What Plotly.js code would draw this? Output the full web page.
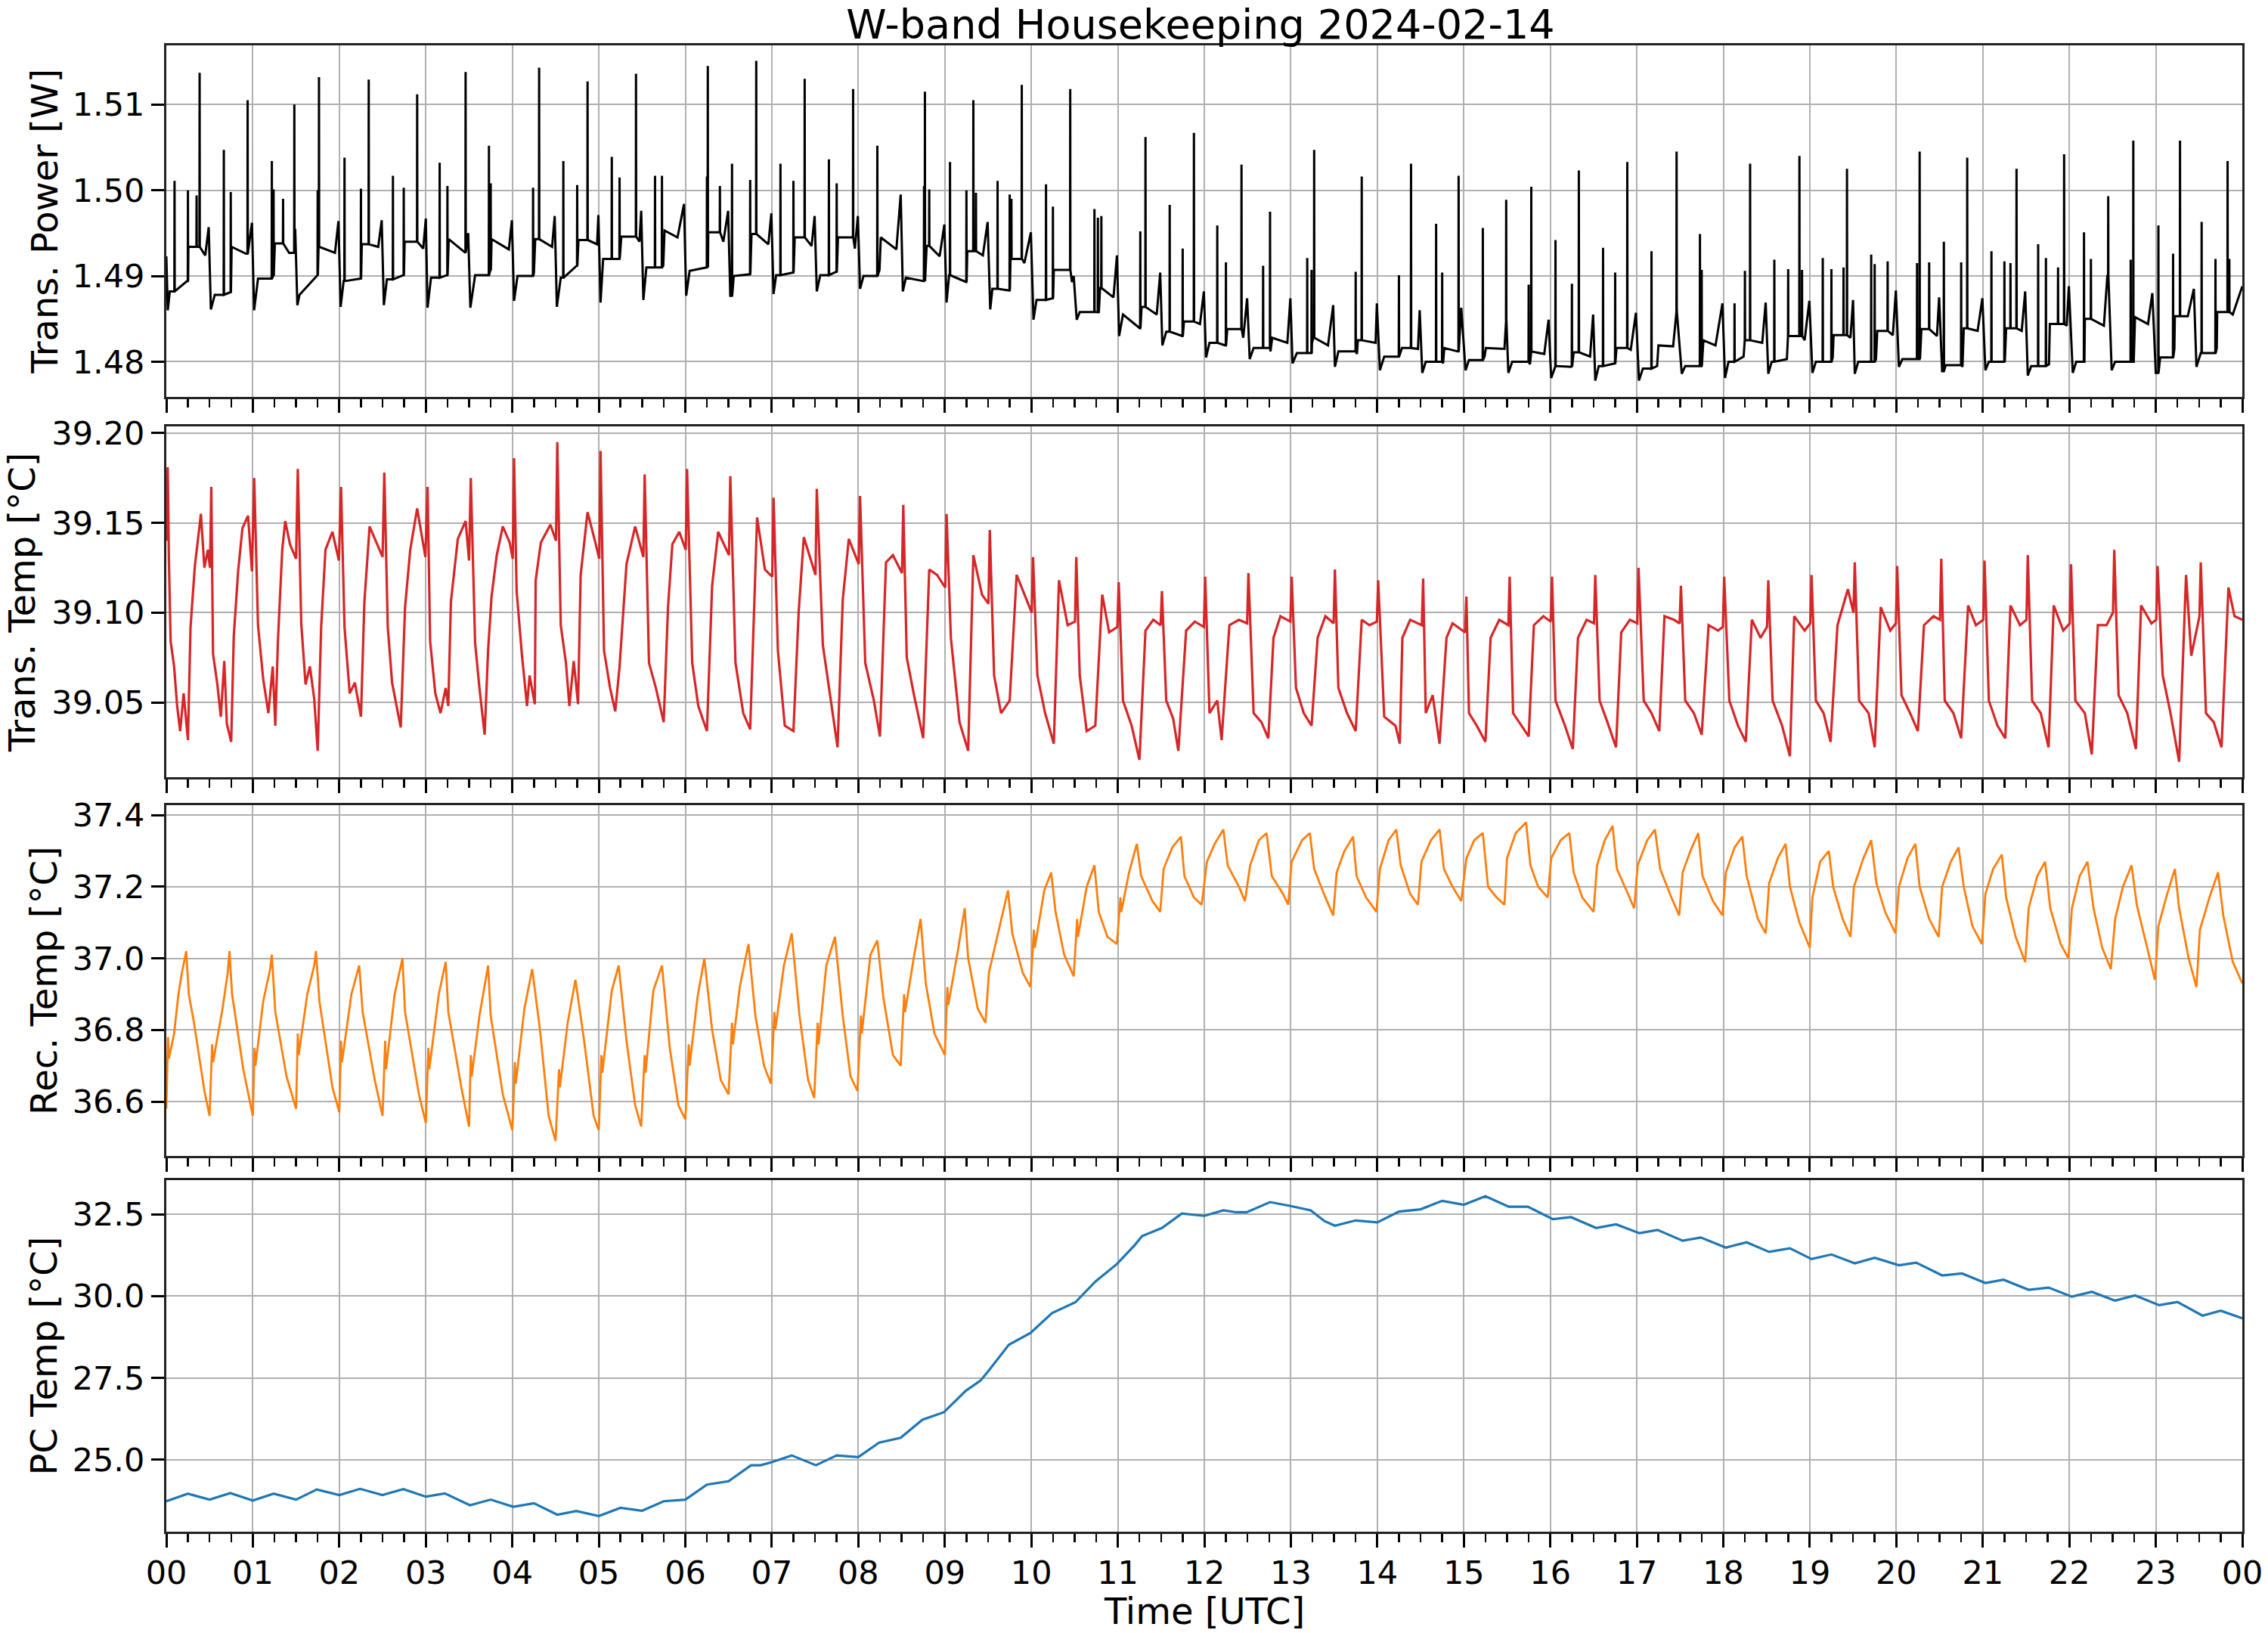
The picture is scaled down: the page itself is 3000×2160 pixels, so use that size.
<!DOCTYPE html>
<html>
<head>
<meta charset="utf-8">
<script src="https://cdn.plot.ly/plotly-3.0.1.min.js"></script>
<style>body { margin: 0; background: #fff; }</style>
</head>
<body>
<div id="chart" style="width:3000px;height:2160px"></div>
<script>
// x axis: hours of the day
var hourTicks = [];
var hourLabels = [];
for (var h = 0; h <= 24; h++) {
  hourTicks.push(h);
  hourLabels.push(String(h % 24).padStart(2, '0'));
}

// Trans. Power [W] - baseline (steps, ramps, dips)
var powerBase = [
  [0.00,1.4923],[0.017,1.4860],[0.04,1.4882],[0.24,1.4894],[0.255,1.4934],[0.45,1.4924],[0.49,1.4957],[0.515,1.4861],[0.56,1.4878],[0.74,1.4881],
  [0.755,1.4934],[0.92,1.4926],[0.99,1.4962],[1.015,1.4860],[1.06,1.4897],[1.24,1.4901],[1.255,1.4938],[1.42,1.4927],[1.49,1.4955],[1.515,1.4866],
  [1.54,1.4878],[1.745,1.4901],[1.76,1.4934],[1.95,1.4927],[1.99,1.4964],[2.015,1.4864],[2.05,1.4894],[2.245,1.4897],[2.26,1.4937],[2.45,1.4934],
  [2.49,1.4965],[2.515,1.4866],[2.55,1.4896],[2.74,1.4901],[2.755,1.4940],[2.97,1.4932],[3.0,1.4967],[3.02,1.4863],[3.06,1.4898],[3.245,1.4901],
  [3.265,1.4943],[3.45,1.4927],[3.49,1.4950],[3.515,1.4863],[3.57,1.4901],[3.745,1.4907],[3.76,1.4943],[3.96,1.4931],[3.995,1.4965],[4.02,1.4871],
  [4.06,1.4900],[4.25,1.4904],[4.265,1.4943],[4.46,1.4934],[4.49,1.4970],[4.515,1.4864],[4.56,1.4898],[4.745,1.4912],[4.765,1.4942],[4.98,1.4937],
  [4.995,1.4971],[5.02,1.4869],[5.05,1.4920],[5.245,1.4924],[5.26,1.4946],[5.47,1.4940],[5.49,1.4976],[5.515,1.4872],[5.55,1.4910],[5.745,1.4912],
  [5.76,1.4953],[5.91,1.4945],[5.985,1.4984],[6.01,1.4877],[6.05,1.4906],[6.245,1.4910],[6.265,1.4951],[6.44,1.4940],[6.495,1.4976],[6.52,1.4877],
  [6.56,1.4900],[6.745,1.4902],[6.765,1.4949],[6.96,1.4937],[6.995,1.4973],[7.02,1.4879],[7.05,1.4901],[7.245,1.4904],[7.265,1.4945],[7.46,1.4935],
  [7.495,1.4970],[7.52,1.4882],[7.56,1.4901],[7.745,1.4905],[7.765,1.4945],[7.96,1.4932],[7.995,1.4970],[8.02,1.4885],[8.06,1.4900],[8.245,1.4907],
  [8.26,1.4945],[8.44,1.4931],[8.49,1.4995],[8.515,1.4882],[8.55,1.4898],[8.755,1.4894],[8.79,1.4935],[8.94,1.4923],[8.995,1.4960],[9.02,1.4869],
  [9.05,1.4901],[9.245,1.4893],[9.26,1.4929],[9.44,1.4924],[9.495,1.4963],[9.525,1.4861],[9.55,1.4885],[9.745,1.4883],[9.76,1.4920],[9.92,1.4915],
  [9.995,1.4951],[10.025,1.4849],[10.06,1.4872],[10.245,1.4874],[10.26,1.4907],[10.47,1.4893],[10.49,1.4900],[10.525,1.4849],[10.56,1.4858],[10.78,1.4857],
  [10.795,1.4886],[10.95,1.4875],[10.99,1.4924],[11.015,1.4830],[11.06,1.4855],[11.255,1.4839],[11.275,1.4864],[11.45,1.4855],[11.49,1.4904],[11.515,1.4819],
  [11.56,1.4835],[11.745,1.4830],[11.765,1.4847],[11.95,1.4844],[11.995,1.4882],[12.02,1.4805],[12.06,1.4822],[12.245,1.4819],[12.265,1.4838],[12.45,1.4828],
  [12.495,1.4874],[12.525,1.4803],[12.57,1.4816],[12.765,1.4812],[12.785,1.4828],[12.96,1.4822],[12.995,1.4874],[13.02,1.4798],[13.07,1.4810],[13.245,1.4822],
  [13.26,1.4828],[13.43,1.4819],[13.49,1.4866],[13.51,1.4794],[13.55,1.4812],[13.765,1.4809],[13.775,1.4825],[13.98,1.4822],[13.995,1.4868],[14.03,1.4790],
  [14.08,1.4806],[14.285,1.4816],[14.47,1.4815],[14.49,1.4860],[14.52,1.4787],[14.56,1.4800],[14.76,1.4798],[14.775,1.4816],[14.93,1.4812],[14.97,1.4863],
  [15.02,1.4790],[15.06,1.4802],[15.24,1.4806],[15.255,1.4816],[15.47,1.4815],[15.49,1.4850],[15.515,1.4787],[15.56,1.4800],[15.765,1.4797],[15.78,1.4812],
  [15.93,1.4809],[15.98,1.4849],[16.01,1.4781],[16.06,1.4795],[16.25,1.4794],[16.27,1.4811],[16.46,1.4806],[16.495,1.4855],[16.52,1.4778],[16.56,1.4795],
  [16.745,1.4798],[16.765,1.4816],[16.93,1.4814],[16.99,1.4857],[17.025,1.4778],[17.07,1.4792],[17.235,1.4795],[17.25,1.4819],[17.42,1.4818],[17.46,1.4860],
  [17.52,1.4786],[17.56,1.4795],[17.755,1.4800],[17.77,1.4825],[17.91,1.4819],[17.99,1.4868],[18.02,1.4781],[18.06,1.4800],[18.235,1.4806],[18.245,1.4825],
  [18.45,1.4822],[18.49,1.4869],[18.52,1.4786],[18.56,1.4800],[18.735,1.4803],[18.745,1.4830],[18.94,1.4825],[18.995,1.4871],[19.03,1.4787],[19.07,1.4800],
  [19.265,1.4805],[19.275,1.4831],[19.47,1.4828],[19.50,1.4872],[19.52,1.4786],[19.56,1.4800],[19.765,1.4803],[19.78,1.4836],[19.96,1.4831],[19.995,1.4883],
  [20.03,1.4794],[20.07,1.4803],[20.275,1.4805],[20.29,1.4838],[20.47,1.4830],[20.495,1.4875],[20.53,1.4789],[20.57,1.4796],[20.765,1.4794],[20.78,1.4839],
  [20.94,1.4836],[20.995,1.4874],[21.03,1.4790],[21.07,1.4800],[21.255,1.4801],[21.27,1.4839],[21.45,1.4836],[21.49,1.4882],[21.52,1.4784],[21.56,1.4795],
  [21.765,1.4797],[21.775,1.4844],[21.97,1.4842],[21.995,1.4888],[22.04,1.4787],[22.08,1.4800],[22.175,1.4800],[22.18,1.4850],[22.40,1.4842],[22.44,1.4900],
  [22.49,1.4790],[22.53,1.4800],[22.745,1.4800],[22.76,1.4852],[22.91,1.4844],[22.96,1.4880],[23.0,1.4787],[23.05,1.4805],[23.215,1.4815],[23.22,1.4853],
  [23.37,1.4853],[23.44,1.4885],[23.47,1.4794],[23.52,1.4810],[23.705,1.4816],[23.71,1.4858],[23.89,1.4855],[24.0,1.4888]
];

// Trans. Power [W] - short upward spikes (hour, peak)
var powerSpikes = [
  [0.095,1.5011],[0.25,1.5000],[0.35,1.4994],[0.385,1.5137],[0.665,1.5047],[0.745,1.4998],[0.94,1.5105],[1.22,1.5034],[1.24,1.5001],[1.35,1.4990],
  [1.48,1.5100],[1.75,1.5000],[1.765,1.5132],[2.06,1.5038],[2.25,1.5002],[2.34,1.5129],[2.62,1.5017],[2.745,1.5003],[2.9,1.5112],[3.16,1.5032],
  [3.25,1.5005],[3.46,1.5138],[3.73,1.5052],[3.75,1.5008],[4.24,1.5003],[4.31,1.5143],[4.59,1.5034],[4.75,1.5006],[4.87,1.5127],[5.15,1.5039],
  [5.24,1.5015],[5.43,1.5136],[5.65,1.5017],[5.73,1.5017],[6.25,1.5016],[6.26,1.5145],[6.40,1.5005],[6.54,1.5031],[6.75,1.5012],[6.82,1.5151],
  [7.10,1.5031],[7.25,1.5011],[7.38,1.5130],[7.66,1.5036],[7.75,1.5008],[7.94,1.5118],[8.22,1.5052],[8.76,1.5005],[8.77,1.5115],[8.82,1.5001],
  [9.06,1.5033],[9.25,1.5000],[9.33,1.5105],[9.36,1.4997],[9.61,1.5011],[9.75,1.4995],[9.77,1.4990],[9.89,1.5123],[10.17,1.5007],[10.25,1.4981],
  [10.45,1.5118],[10.73,1.4978],[10.77,1.4968],[10.81,1.4970],[11.26,1.4952],[11.32,1.5062],[11.60,1.4983],[11.75,1.4932],[11.88,1.5067],[12.15,1.4959],
  [12.25,1.4916],[12.43,1.5030],[12.68,1.4912],[12.76,1.4975],[13.19,1.4921],[13.24,1.4907],[13.27,1.5047],[13.75,1.4905],[13.82,1.5016],[14.25,1.4901],
  [14.39,1.5031],[14.68,1.4961],[14.75,1.4904],[14.94,1.5017],[15.22,1.4956],[15.49,1.4989],[15.75,1.4890],[15.78,1.5004],[16.06,1.4942],[16.25,1.4891],
  [16.33,1.5023],[16.61,1.4933],[16.75,1.4904],[16.89,1.5033],[17.17,1.4929],[17.46,1.5045],[17.73,1.4949],[17.75,1.4907],[18.13,1.4868],[18.25,1.4906],
  [18.31,1.5031],[18.59,1.4919],[18.75,1.4908],[18.88,1.5040],[18.91,1.4907],[19.15,1.4921],[19.25,1.4908],[19.39,1.4910],[19.43,1.5025],[19.71,1.4925],
  [19.75,1.4914],[19.9,1.4917],[20.24,1.4915],[20.27,1.5045],[20.38,1.4916],[20.55,1.4940],[20.75,1.4916],[20.82,1.5038],[21.1,1.4929],[21.25,1.4917],
  [21.32,1.4915],[21.39,1.5025],[21.64,1.4937],[21.73,1.4921],[21.87,1.4910],[21.94,1.5042],[22.17,1.4951],[22.25,1.4920],[22.45,1.4993],[22.71,1.4919],
  [22.74,1.5058],[23.03,1.4959],[23.2,1.4926],[23.28,1.5058],[23.53,1.4963],[23.69,1.4920],[23.83,1.5034],[23.85,1.4920]
];

// Trans. Temp [°C]
var transTemp = [
  [0.000,39.140],[0.016,39.181],[0.030,39.129],[0.050,39.084],[0.090,39.070],[0.125,39.048],[0.160,39.034],[0.200,39.055],[0.250,39.029],[0.280,39.092],
  [0.330,39.126],[0.380,39.147],[0.400,39.155],[0.440,39.125],[0.480,39.135],[0.505,39.125],[0.520,39.170],[0.540,39.077],[0.590,39.060],[0.630,39.042],
  [0.670,39.073],[0.700,39.038],[0.750,39.028],[0.780,39.087],[0.830,39.123],[0.880,39.147],[0.945,39.154],[0.990,39.123],[1.016,39.175],[1.060,39.093],
  [1.120,39.063],[1.180,39.044],[1.230,39.070],[1.260,39.037],[1.290,39.084],[1.340,39.135],[1.375,39.151],[1.430,39.138],[1.500,39.130],[1.520,39.180],
  [1.560,39.094],[1.610,39.060],[1.660,39.070],[1.710,39.052],[1.750,39.023],[1.790,39.092],[1.840,39.135],[1.920,39.145],[1.995,39.129],[2.020,39.170],
  [2.060,39.092],[2.120,39.055],[2.180,39.061],[2.250,39.042],[2.290,39.106],[2.350,39.148],[2.430,39.139],[2.500,39.131],[2.520,39.178],[2.560,39.092],
  [2.610,39.061],[2.660,39.048],[2.710,39.036],[2.760,39.103],[2.820,39.135],[2.900,39.158],[2.995,39.131],[3.020,39.170],[3.050,39.084],[3.110,39.055],
  [3.170,39.044],[3.230,39.058],[3.260,39.048],[3.290,39.106],[3.370,39.141],[3.460,39.151],[3.500,39.129],[3.520,39.175],[3.570,39.083],[3.620,39.058],
  [3.680,39.032],[3.720,39.079],[3.760,39.109],[3.820,39.132],[3.890,39.148],[3.970,39.139],[4.005,39.130],[4.020,39.186],[4.050,39.112],[4.110,39.077],
  [4.170,39.048],[4.200,39.065],[4.260,39.049],[4.270,39.118],[4.330,39.139],[4.440,39.149],[4.505,39.140],[4.520,39.195],[4.560,39.093],[4.620,39.072],
  [4.660,39.048],[4.710,39.073],[4.760,39.049],[4.790,39.121],[4.870,39.156],[4.960,39.139],[5.005,39.130],[5.020,39.190],[5.060,39.079],[5.130,39.058],
  [5.190,39.045],[5.240,39.070],[5.280,39.100],[5.320,39.127],[5.420,39.148],[5.515,39.131],[5.530,39.177],[5.580,39.072],[5.660,39.058],[5.750,39.039],
  [5.800,39.103],[5.850,39.138],[5.930,39.145],[6.005,39.135],[6.020,39.180],[6.080,39.072],[6.150,39.048],[6.250,39.034],[6.310,39.115],[6.380,39.145],
  [6.505,39.132],[6.520,39.176],[6.580,39.072],[6.670,39.044],[6.750,39.035],[6.780,39.079],[6.830,39.153],[6.920,39.124],[7.005,39.120],[7.020,39.164],
  [7.070,39.079],[7.150,39.037],[7.250,39.034],[7.310,39.100],[7.370,39.142],[7.505,39.121],[7.520,39.169],[7.590,39.082],[7.660,39.058],[7.760,39.025],
  [7.820,39.107],[7.890,39.141],[8.005,39.127],[8.020,39.165],[8.080,39.072],[8.180,39.051],[8.250,39.031],[8.320,39.128],[8.400,39.132],[8.505,39.122],
  [8.520,39.160],[8.560,39.075],[8.640,39.055],[8.750,39.030],[8.820,39.124],[8.910,39.121],[9.005,39.114],[9.020,39.155],[9.070,39.086],[9.170,39.039],
  [9.270,39.023],[9.330,39.132],[9.430,39.110],[9.505,39.105],[9.520,39.146],[9.570,39.065],[9.650,39.044],[9.750,39.051],[9.830,39.121],[9.890,39.114],
  [10.005,39.100],[10.020,39.131],[10.070,39.065],[10.160,39.044],[10.260,39.027],[10.320,39.118],[10.420,39.093],[10.505,39.095],[10.520,39.131],[10.560,39.065],
  [10.640,39.034],[10.740,39.037],[10.820,39.110],[10.900,39.089],[10.995,39.092],[11.010,39.117],[11.060,39.051],[11.160,39.037],[11.250,39.018],[11.320,39.090],
  [11.410,39.096],[11.495,39.093],[11.510,39.112],[11.560,39.051],[11.640,39.041],[11.700,39.023],[11.790,39.090],[11.890,39.095],[11.995,39.092],[12.010,39.120],
  [12.060,39.044],[12.150,39.051],[12.200,39.029],[12.290,39.093],[12.400,39.096],[12.495,39.094],[12.510,39.122],[12.570,39.044],[12.660,39.039],[12.740,39.030],
  [12.800,39.086],[12.880,39.098],[12.995,39.095],[13.010,39.120],[13.060,39.058],[13.150,39.044],[13.240,39.037],[13.310,39.086],[13.400,39.098],[13.495,39.094],
  [13.510,39.124],[13.550,39.058],[13.650,39.044],[13.750,39.034],[13.820,39.096],[13.910,39.093],[13.995,39.095],[14.010,39.118],[14.080,39.042],[14.210,39.037],
  [14.260,39.027],[14.290,39.086],[14.380,39.096],[14.515,39.093],[14.530,39.119],[14.560,39.044],[14.640,39.054],[14.720,39.027],[14.800,39.086],[14.870,39.094],
  [15.015,39.089],[15.030,39.109],[15.060,39.044],[15.150,39.037],[15.250,39.028],[15.310,39.086],[15.410,39.096],[15.515,39.093],[15.530,39.120],[15.570,39.044],
  [15.670,39.037],[15.750,39.031],[15.810,39.093],[15.920,39.098],[16.005,39.095],[16.020,39.120],[16.060,39.051],[16.170,39.037],[16.260,39.024],[16.320,39.086],
  [16.420,39.096],[16.505,39.094],[16.520,39.121],[16.570,39.051],[16.660,39.039],[16.760,39.025],[16.820,39.089],[16.920,39.096],[17.005,39.094],[17.020,39.125],
  [17.080,39.051],[17.170,39.044],[17.260,39.034],[17.320,39.098],[17.430,39.096],[17.495,39.094],[17.510,39.115],[17.560,39.051],[17.660,39.044],[17.750,39.032],
  [17.830,39.093],[17.940,39.090],[17.995,39.092],[18.010,39.120],[18.070,39.051],[18.170,39.037],[18.260,39.028],[18.330,39.096],[18.430,39.086],[18.505,39.092],
  [18.520,39.118],[18.570,39.051],[18.680,39.037],[18.770,39.020],[18.820,39.098],[18.940,39.090],[19.005,39.094],[19.020,39.121],[19.070,39.051],[19.160,39.044],
  [19.240,39.028],[19.320,39.093],[19.440,39.113],[19.505,39.100],[19.520,39.128],[19.570,39.051],[19.680,39.044],[19.750,39.025],[19.820,39.103],[19.930,39.090],
  [19.995,39.094],[20.010,39.126],[20.060,39.054],[20.160,39.044],[20.250,39.034],[20.320,39.093],[20.430,39.098],[20.505,39.096],[20.520,39.130],[20.560,39.051],
  [20.660,39.044],[20.750,39.030],[20.830,39.104],[20.920,39.093],[21.005,39.096],[21.020,39.129],[21.070,39.051],[21.170,39.037],[21.260,39.030],[21.320,39.104],
  [21.430,39.093],[21.505,39.096],[21.520,39.132],[21.570,39.051],[21.670,39.044],[21.760,39.025],[21.820,39.104],[21.930,39.090],[22.005,39.094],[22.020,39.127],
  [22.070,39.051],[22.180,39.044],[22.260,39.021],[22.330,39.093],[22.430,39.093],[22.505,39.100],[22.520,39.135],[22.570,39.054],[22.670,39.044],[22.770,39.024],
  [22.830,39.104],[22.950,39.094],[23.005,39.096],[23.020,39.126],[23.080,39.065],[23.170,39.044],[23.270,39.017],[23.350,39.121],[23.410,39.076],[23.505,39.098],
  [23.520,39.128],[23.580,39.044],[23.670,39.039],[23.760,39.025],[23.840,39.114],[23.910,39.098],[24.000,39.096]
];

// Rec. Temp [°C]
var recTemp = [
  [0.00,36.58],[0.02,36.78],[0.03,36.72],[0.09,36.79],[0.14,36.90],[0.18,36.96],[0.23,37.02],[0.26,36.90],[0.32,36.82],[0.38,36.72],
  [0.44,36.63],[0.50,36.56],[0.53,36.76],[0.54,36.71],[0.65,36.86],[0.71,36.96],[0.73,37.02],[0.76,36.90],[0.89,36.69],[1.00,36.56],
  [1.02,36.75],[1.03,36.70],[1.12,36.88],[1.20,36.97],[1.22,37.01],[1.26,36.85],[1.39,36.67],[1.50,36.58],[1.52,36.79],[1.53,36.73],
  [1.63,36.90],[1.71,36.98],[1.73,37.02],[1.77,36.88],[1.92,36.64],[2.00,36.57],[2.02,36.77],[2.03,36.71],[2.14,36.90],[2.23,36.98],
  [2.27,36.85],[2.41,36.66],[2.50,36.56],[2.53,36.77],[2.54,36.69],[2.64,36.90],[2.73,37.00],[2.76,36.85],[2.92,36.62],[3.00,36.54],
  [3.03,36.75],[3.04,36.69],[3.15,36.90],[3.23,36.99],[3.26,36.85],[3.41,36.64],[3.50,36.53],[3.52,36.73],[3.53,36.67],[3.62,36.84],
  [3.72,36.98],[3.75,36.84],[3.89,36.62],[4.00,36.52],[4.03,36.71],[4.04,36.65],[4.14,36.86],[4.23,36.97],[4.32,36.80],[4.42,36.56],
  [4.50,36.49],[4.54,36.69],[4.55,36.64],[4.64,36.82],[4.73,36.94],[4.83,36.77],[4.94,36.56],[5.00,36.52],[5.03,36.73],[5.04,36.68],
  [5.15,36.91],[5.23,36.98],[5.32,36.77],[5.42,36.59],[5.49,36.53],[5.53,36.73],[5.54,36.68],[5.63,36.91],[5.73,36.98],[5.82,36.75],
  [5.92,36.59],[6.00,36.55],[6.04,36.76],[6.05,36.70],[6.14,36.89],[6.22,37.00],[6.31,36.80],[6.41,36.66],[6.50,36.62],[6.54,36.82],
  [6.55,36.76],[6.63,36.92],[6.73,37.04],[6.81,36.84],[6.91,36.70],[6.99,36.65],[7.03,36.85],[7.04,36.80],[7.14,36.98],[7.23,37.07],
  [7.32,36.84],[7.42,36.66],[7.49,36.61],[7.53,36.82],[7.54,36.76],[7.63,36.98],[7.73,37.06],[7.82,36.84],[7.91,36.67],[7.99,36.63],
  [8.03,36.84],[8.04,36.79],[8.14,37.01],[8.22,37.05],[8.29,36.89],[8.40,36.73],[8.49,36.70],[8.53,36.90],[8.54,36.85],[8.64,37.00],
  [8.72,37.11],[8.78,36.93],[8.88,36.79],[9.00,36.73],[9.03,36.92],[9.04,36.87],[9.15,37.02],[9.23,37.14],[9.27,37.00],[9.38,36.86],
  [9.47,36.82],[9.51,36.96],[9.64,37.10],[9.73,37.19],[9.78,37.07],[9.90,36.96],[9.99,36.92],[10.03,37.08],[10.04,37.03],[10.15,37.19],
  [10.23,37.24],[10.28,37.13],[10.38,37.01],[10.49,36.95],[10.53,37.11],[10.54,37.06],[10.64,37.20],[10.73,37.26],[10.78,37.13],[10.88,37.06],
  [10.99,37.04],[11.03,37.17],[11.04,37.13],[11.13,37.24],[11.22,37.32],[11.27,37.23],[11.40,37.16],[11.49,37.13],[11.53,37.25],[11.63,37.31],
  [11.73,37.34],[11.77,37.23],[11.88,37.17],[11.97,37.15],[12.03,37.27],[12.12,37.32],[12.22,37.36],[12.27,37.26],[12.40,37.20],[12.47,37.16],
  [12.53,37.26],[12.63,37.33],[12.72,37.35],[12.78,37.23],[12.91,37.18],[12.97,37.15],[13.01,37.27],[13.13,37.33],[13.22,37.35],[13.27,37.25],
  [13.40,37.17],[13.49,37.12],[13.53,37.24],[13.62,37.30],[13.72,37.34],[13.76,37.23],[13.87,37.17],[13.99,37.13],[14.03,37.25],[14.13,37.33],
  [14.22,37.36],[14.27,37.26],[14.38,37.18],[14.47,37.15],[14.51,37.27],[14.62,37.33],[14.72,37.36],[14.77,37.25],[14.87,37.20],[14.97,37.16],
  [15.03,37.28],[15.12,37.33],[15.22,37.35],[15.28,37.20],[15.38,37.17],[15.47,37.15],[15.50,37.28],[15.60,37.35],[15.72,37.38],[15.77,37.26],
  [15.86,37.20],[15.97,37.17],[16.01,37.28],[16.12,37.33],[16.22,37.35],[16.27,37.24],[16.37,37.17],[16.50,37.13],[16.54,37.26],[16.63,37.33],
  [16.72,37.37],[16.77,37.25],[16.88,37.19],[16.97,37.14],[17.01,37.26],[17.12,37.33],[17.21,37.36],[17.27,37.25],[17.40,37.17],[17.49,37.12],
  [17.53,37.24],[17.62,37.30],[17.71,37.35],[17.76,37.23],[17.88,37.16],[17.99,37.12],[18.03,37.24],[18.13,37.31],[18.22,37.34],[18.27,37.23],
  [18.40,37.11],[18.49,37.07],[18.53,37.21],[18.63,37.28],[18.72,37.32],[18.77,37.20],[18.88,37.10],[19.00,37.03],[19.03,37.17],[19.12,37.27],
  [19.22,37.30],[19.27,37.20],[19.38,37.11],[19.47,37.06],[19.51,37.20],[19.62,37.28],[19.71,37.33],[19.77,37.21],[19.87,37.13],[19.99,37.07],
  [20.03,37.20],[20.13,37.28],[20.22,37.32],[20.27,37.20],[20.38,37.11],[20.49,37.06],[20.53,37.20],[20.63,37.27],[20.72,37.31],[20.78,37.20],
  [20.88,37.09],[20.99,37.04],[21.03,37.18],[21.12,37.25],[21.22,37.29],[21.27,37.17],[21.38,37.06],[21.49,36.99],[21.53,37.14],[21.63,37.23],
  [21.72,37.27],[21.78,37.14],[21.90,37.04],[21.99,37.00],[22.03,37.14],[22.12,37.23],[22.21,37.27],[22.28,37.14],[22.38,37.03],[22.48,36.97],
  [22.53,37.11],[22.62,37.20],[22.72,37.26],[22.78,37.15],[22.89,37.04],[22.99,36.94],[23.03,37.09],[23.12,37.17],[23.22,37.25],[23.27,37.14],
  [23.38,37.00],[23.47,36.92],[23.51,37.08],[23.62,37.17],[23.72,37.24],[23.78,37.12],[23.89,36.99],[24.00,36.93]
];

// PC Temp [°C]
var pcTemp = [
  [0,23.73],[0.25,23.96],[0.5,23.78],[0.74,23.98],[1.0,23.75],[1.24,23.96],[1.5,23.78],[1.74,24.09],[2.0,23.92],[2.24,24.11],
  [2.5,23.92],[2.74,24.10],[3.0,23.87],[3.22,23.97],[3.51,23.61],[3.75,23.78],[4.01,23.56],[4.25,23.67],[4.52,23.32],[4.74,23.43],
  [5.0,23.28],[5.25,23.53],[5.5,23.44],[5.75,23.73],[6.0,23.78],[6.25,24.24],[6.5,24.34],[6.76,24.83],[6.87,24.83],[6.98,24.91],
  [7.23,25.13],[7.51,24.83],[7.75,25.13],[8.0,25.08],[8.24,25.52],[8.49,25.67],[8.74,26.22],[8.99,26.45],[9.24,27.10],[9.41,27.41],
  [9.49,27.66],[9.74,28.51],[9.99,28.87],[10.24,29.48],[10.51,29.81],[10.74,30.44],[10.99,30.98],[11.2,31.57],[11.28,31.83],[11.51,32.08],
  [11.74,32.52],[12.0,32.45],[12.22,32.62],[12.37,32.56],[12.49,32.56],[12.76,32.87],[13.0,32.75],[13.23,32.62],[13.39,32.29],[13.51,32.15],
  [13.75,32.31],[14.0,32.25],[14.25,32.58],[14.5,32.65],[14.75,32.91],[15.0,32.79],[15.25,33.05],[15.52,32.73],[15.74,32.73],[16.03,32.35],
  [16.24,32.41],[16.53,32.08],[16.76,32.19],[17.03,31.92],[17.24,32.02],[17.53,31.69],[17.74,31.79],[18.03,31.48],[18.27,31.64],[18.53,31.35],
  [18.77,31.46],[19.02,31.13],[19.25,31.27],[19.52,31.0],[19.75,31.17],[20.03,30.94],[20.23,31.02],[20.53,30.63],[20.76,30.69],[21.03,30.40],
  [21.24,30.50],[21.53,30.19],[21.76,30.26],[22.03,29.98],[22.26,30.13],[22.53,29.86],[22.76,30.02],[23.04,29.72],[23.25,29.82],[23.54,29.40],
  [23.75,29.55],[24.0,29.32]
];

// put the spikes onto the power baseline (base value held either side)
var powerX = [], powerY = [];
var k = 0;
for (var i = 0; i < powerBase.length; i++) {
  powerX.push(powerBase[i][0]);
  powerY.push(powerBase[i][1]);
  var next = i + 1 < powerBase.length ? powerBase[i + 1][0] : Infinity;
  while (k < powerSpikes.length && powerSpikes[k][0] < next) {
    var ts = powerSpikes[k][0];
    if (ts >= powerBase[i][0]) {
      powerX.push(ts - 0.002, ts, ts + 0.002);
      powerY.push(powerBase[i][1], powerSpikes[k][1], powerBase[i][1]);
    }
    k++;
  }
}

function col(arr, j) { return arr.map(function (p) { return p[j]; }); }

var data = [
  { x: powerX, y: powerY, xaxis: 'x', yaxis: 'y', mode: 'lines',
    line: { color: '#000000', width: 3 }, showlegend: false },
  { x: col(transTemp, 0), y: col(transTemp, 1), xaxis: 'x2', yaxis: 'y2', mode: 'lines',
    line: { color: '#d62728', width: 3.2 }, showlegend: false },
  { x: col(recTemp, 0), y: col(recTemp, 1), xaxis: 'x3', yaxis: 'y3', mode: 'lines',
    line: { color: '#ff7f0e', width: 2.8 }, showlegend: false },
  { x: col(pcTemp, 0), y: col(pcTemp, 1), xaxis: 'x4', yaxis: 'y4', mode: 'lines',
    line: { color: '#1f77b4', width: 3.2 }, showlegend: false }
];

var tickFont = { family: 'DejaVu Sans', size: 43, color: '#000' };

function xAxis(anchor, showLabels) {
  return {
    anchor: anchor, domain: [0, 1], range: [0, 24],
    tickmode: 'array', tickvals: hourTicks, ticktext: hourLabels,
    showticklabels: showLabels, tickfont: tickFont, ticklabelstandoff: -4,
    ticks: 'outside', ticklen: 18, tickwidth: 3, tickcolor: '#000',
    minor: { tickmode: 'linear', tick0: 0, dtick: 0.25, ticks: 'outside',
             ticklen: 11, tickwidth: 2.5, tickcolor: '#000', showgrid: false },
    showgrid: true, gridcolor: '#b0b0b0', gridwidth: 2,
    showline: true, linecolor: '#222', linewidth: 3, mirror: true,
    zeroline: false
  };
}

function yAxis(anchor, domain, range, dtick, fmt) {
  return {
    anchor: anchor, domain: domain, range: range,
    tick0: 0, dtick: dtick, tickformat: fmt, tickfont: tickFont,
    ticks: 'outside', ticklen: 17, tickwidth: 3, tickcolor: '#000',
    showgrid: true, gridcolor: '#b0b0b0', gridwidth: 2,
    showline: true, linecolor: '#222', linewidth: 3, mirror: true,
    zeroline: false
  };
}

var labelFont = { family: 'DejaVu Sans', size: 48, color: '#000' };

function yLabel(text, x, y) {
  return { text: text, xref: 'paper', yref: 'paper', x: x, y: y,
           xanchor: 'center', yanchor: 'middle', textangle: -90,
           showarrow: false, font: labelFont };
}

var layout = {
  width: 3000, height: 2160,
  paper_bgcolor: '#fff', plot_bgcolor: '#fff',
  margin: { l: 220, r: 34, t: 60, b: 134 },
  font: { family: 'DejaVu Sans', color: '#000' },
  title: { text: 'W-band Housekeeping 2024-02-14', font: { family: 'DejaVu Sans', size: 54, color: '#000' },
           x: 0.5293, xanchor: 'center', y: 0.985, yanchor: 'middle' },
  xaxis: xAxis('y', false),
  xaxis2: xAxis('y2', false),
  xaxis3: xAxis('y3', false),
  xaxis4: xAxis('y4', true),
  yaxis: yAxis('x', [0.7635, 1], [1.4759, 1.5169], 0.01, '.2f'),
  yaxis2: yAxis('x2', [0.5076, 0.7436], [39.0083, 39.2037], 0.05, '.2f'),
  yaxis3: yAxis('x3', [0.2528, 0.4888], [36.448, 37.428], 0.2, '.1f'),
  yaxis4: yAxis('x4', [0, 0.2365], [22.80, 33.54], 2.5, '.1f'),
  annotations: [
    yLabel('Trans. Power [W]', -0.0586, 0.8818),
    yLabel('Trans. Temp [°C]', -0.0696, 0.6256),
    yLabel('Rec. Temp [°C]', -0.059, 0.3708),
    yLabel('PC Temp [°C]', -0.059, 0.1183),
    { text: 'Time [UTC]', xref: 'paper', yref: 'paper', x: 0.5, y: -0.0534,
      xanchor: 'center', yanchor: 'middle', showarrow: false, font: labelFont }
  ]
};

Plotly.newPlot('chart', data, layout, { staticPlot: true });
</script>
</body>
</html>
